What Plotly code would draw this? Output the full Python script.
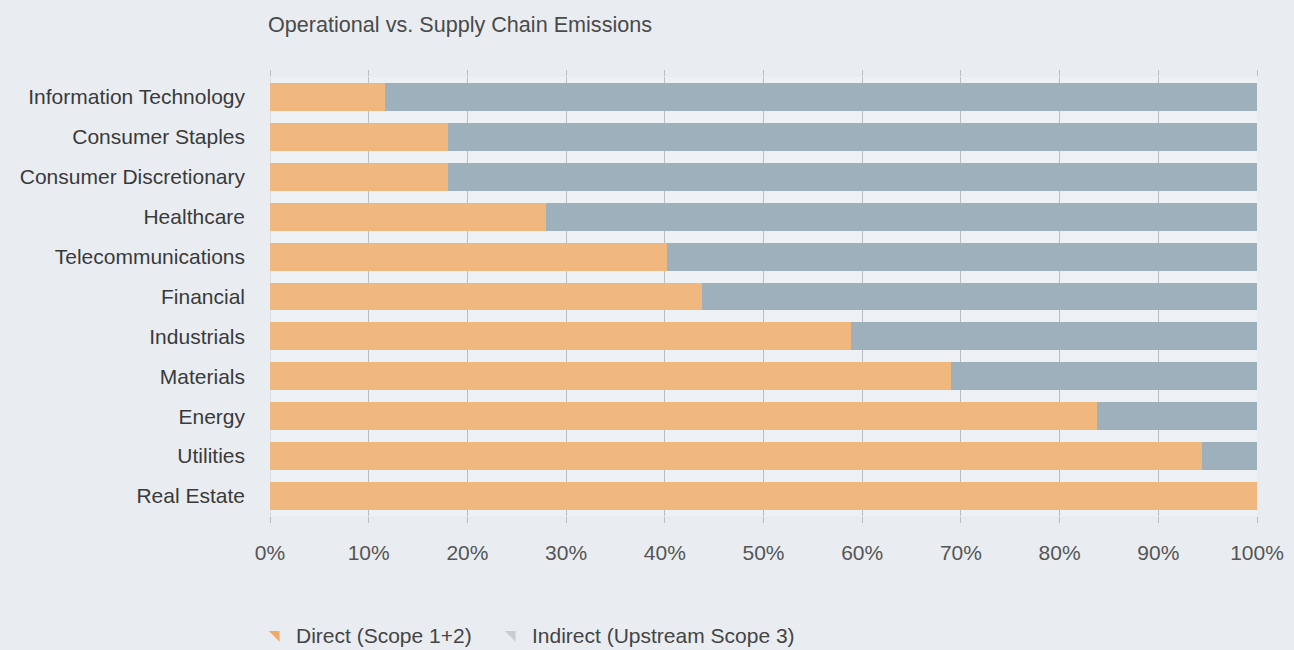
import plotly.graph_objects as go

categories = ["Information Technology", "Consumer Staples", "Consumer Discretionary",
              "Healthcare", "Telecommunications", "Financial", "Industrials",
              "Materials", "Energy", "Utilities", "Real Estate"]
direct = [11.7, 18.0, 18.0, 28.0, 40.2, 43.8, 58.9, 69.0, 83.8, 94.4, 100.0]
indirect = [round(100 - d, 1) for d in direct]
series_names = ["Direct (Scope 1+2)", "Indirect (Upstream Scope 3)"]
tick_vals = [0, 10, 20, 30, 40, 50, 60, 70, 80, 90, 100]
tick_text = [f"{v}%" for v in tick_vals]

ORANGE = "#f0b87e"
GREY = "#9fb0bd"
FONT = "Liberation Sans, Arial, sans-serif"

fig = go.Figure()
fig.add_trace(go.Bar(y=categories, x=direct, orientation="h", name=series_names[0],
                     marker=dict(color=ORANGE, line=dict(width=0)), width=0.7, showlegend=False))
fig.add_trace(go.Bar(y=categories, x=indirect, orientation="h", name=series_names[1],
                     marker=dict(color=GREY, line=dict(width=0)), width=0.7, showlegend=False))
# legend entries with wedge-shaped symbols
fig.add_trace(go.Scatter(x=[None], y=[None], mode="markers", name=series_names[0],
                         marker=dict(symbol="triangle-ne", size=10, color="#f2a968"),
                         legend="legend"))
fig.add_trace(go.Scatter(x=[None], y=[None], mode="markers", name=series_names[1],
                         marker=dict(symbol="triangle-ne", size=10, color="#c9ced3"),
                         legend="legend2"))

legend_common = dict(orientation="h", xanchor="left", y=-0.271, yanchor="middle",
                     font=dict(size=21, color="#444"), bgcolor="rgba(0,0,0,0)",
                     itemsizing="constant")

fig.update_layout(
    width=1294, height=650,
    barmode="stack",
    paper_bgcolor="#e9edf1",
    plot_bgcolor="#edf1f4",
    margin=dict(l=270, r=37, t=77, b=134, autoexpand=False),
    font=dict(family=FONT, size=20, color="#444"),
    title=dict(text="Operational vs. Supply Chain Emissions", x=268/1294, xanchor="left",
               y=1 - 24/650, yanchor="middle", font=dict(size=21.6, color="#4a4a4a")),
    legend=dict(x=-0.0142, **legend_common),
    legend2=dict(x=0.2249, **legend_common),
    xaxis=dict(range=[0, 100], tickvals=tick_vals, ticktext=tick_text,
               showgrid=True, gridcolor="#b9bec3", gridwidth=1,
               ticks="outside", ticklen=6, tickcolor="#b9bec3", mirror="ticks",
               zeroline=False, showline=False, ticklabelstandoff=12, automargin=False,
               tickfont=dict(size=21, color="#555"), fixedrange=True),
    yaxis=dict(categoryorder="array", categoryarray=categories[::-1],
               range=[-0.5, 10.5], showgrid=False, zeroline=False,
               ticks="", ticklabelstandoff=24, automargin=False,
               tickfont=dict(size=21, color="#3a3a3a")),
)
fig.add_vline(x=0, line=dict(color="#c8ccd0", width=1), layer="below")

fig.write_html("out.html")
